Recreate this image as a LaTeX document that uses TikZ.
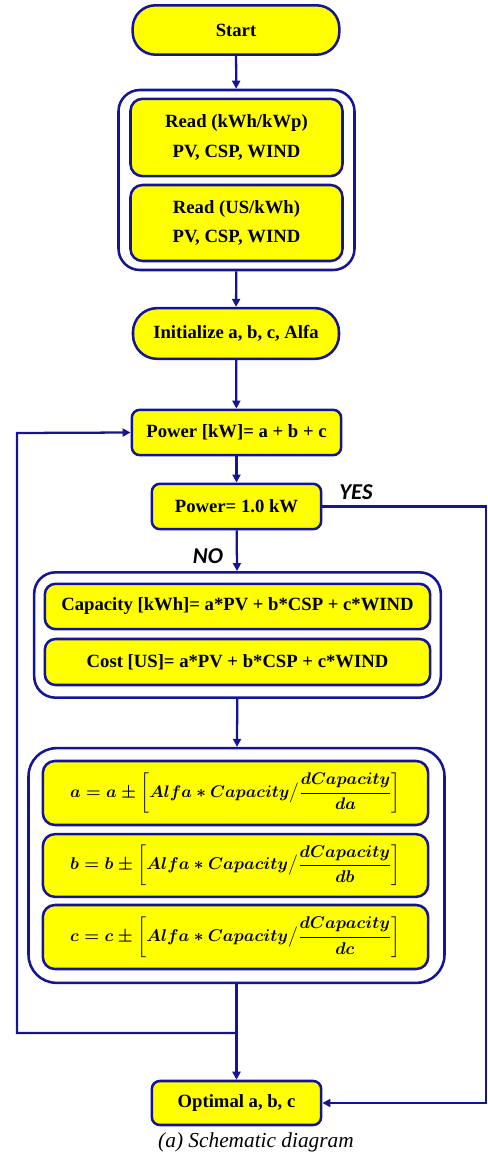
\documentclass[tikz,border=0pt]{standalone}
\usepackage{fontspec}
\setmainfont{Liberation Serif}
\newfontfamily\answerfont{Carlito}
\usepackage{amsmath}
\usepackage{graphicx}
\usetikzlibrary{arrows.meta}
\definecolor{flownavy}{RGB}{20,20,150}
\definecolor{flowyellow}{RGB}{255,255,0}
\newcommand{\stepeq}[1]{\resizebox{248pt}{!}{\fontsize{12}{15}\selectfont\boldmath$\displaystyle #1 = #1 \pm \left[ Alfa \ast Capacity \big/ \frac{dCapacity}{d#1}\right]$}}

\begin{document}
\begin{tikzpicture}[x=0.75pt, y=-0.75pt,
  every node/.style={font=\fontsize{14}{22}\selectfont\bfseries},
  proc/.style={draw=flownavy, fill=flowyellow, line width=1.9pt, rounded corners=#1, inner sep=0pt, align=center},
  proc/.default=7pt,
  frame/.style={draw=flownavy, line width=1.9pt, rounded corners=#1, inner sep=0pt},
  flow/.style={draw=flownavy, line width=1.7pt, -{Triangle[length=6pt,width=6pt]}},
  answer/.style={font=\fontsize{17}{20}\selectfont\answerfont\bfseries\itshape}]
  \useasboundingbox (0,0) rectangle (488,1155);

  \node[proc=17pt, minimum width=155pt, minimum height=37pt] (start) at (236,30) {Start};

  \node[frame=16pt, minimum width=177pt, minimum height=135pt] (readbox) at (236.5,180) {};
  \node[proc=9pt, minimum width=159pt, minimum height=58pt] (readkwh) at (236.5,137.5) {Read (kWh/kWp)\\PV, CSP, WIND};
  \node[proc=9pt, minimum width=159pt, minimum height=57pt] (readus) at (236.5,223) {Read (US/kWh)\\PV, CSP, WIND};

  \node[proc=18pt, minimum width=154.5pt, minimum height=38pt] (init) at (236,333.5) {Initialize a, b, c, Alfa};
  \node[proc=6pt, minimum width=157pt, minimum height=34pt] (power) at (236.5,432.5) {Power [kW]= a + b + c};
  \node[proc=6pt, minimum width=127pt, minimum height=34pt] (check) at (236.5,506.5) {Power= 1.0 kW};

  \node[frame=16pt, minimum width=305pt, minimum height=94pt] (calcbox) at (237.5,635) {};
  \node[proc=8pt, minimum width=289pt, minimum height=34pt] (capacity) at (237.5,606.5) {Capacity [kWh]= a*PV + b*CSP + c*WIND};
  \node[proc=8pt, minimum width=289pt, minimum height=34.5pt] (cost) at (237.5,662) {Cost [US]= a*PV + b*CSP + c*WIND};

  \node[frame=21pt, minimum width=312pt, minimum height=176pt] (updbox) at (236.5,865.5) {};
  \node[proc=9pt, minimum width=289pt, minimum height=48pt] (upda) at (235.5,793) {\stepeq{a}};
  \node[proc=9pt, minimum width=289pt, minimum height=47pt] (updb) at (235.5,865.5) {\stepeq{b}};
  \node[proc=9pt, minimum width=289pt, minimum height=48pt] (updc) at (235.5,937) {\stepeq{c}};

  \node[proc=6pt, minimum width=127pt, minimum height=33pt] (optimal) at (236.5,1103) {Optimal a, b, c};
  \node[font=\fontsize{16}{18}\selectfont\itshape] (caption) at (256,1142) {(a) Schematic diagram};

  \node[answer] (yes) at (356,492) {YES};
  \node[answer] (no) at (208,556) {NO};

  \coordinate (join) at (236,1033);
  \coordinate (loopbot) at (17,1033);
  \coordinate (looptop) at (17,433);
  \coordinate (yestop) at (486,506.5);
  \coordinate (yesbot) at (486,1103);

  \draw[flow] (start) -- (readbox);
  \draw[flow] (readbox) -- (init);
  \draw[flow] (init) -- (power);
  \draw[flow] (power) -- (check);
  \draw[flow] (check) -- (calcbox);
  \draw[flow] (calcbox) -- (updbox);
  \draw[flow] (updbox) -- (optimal);
  \draw[flow] (join) -- (loopbot) -- (looptop) -- (power.west);
  \draw[flow] (check.east) -- (yestop) -- (yesbot) -- (optimal.east);
\end{tikzpicture}
\end{document}
